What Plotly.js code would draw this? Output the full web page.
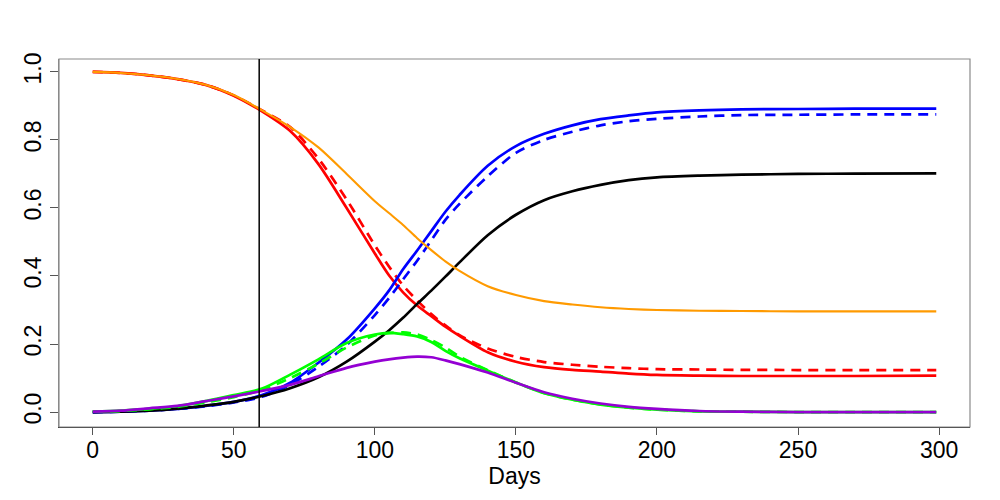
<!DOCTYPE html>
<html>
<head>
<meta charset="utf-8">
<script src="https://cdn.plot.ly/plotly-3.0.1.min.js"></script>
<style>
  body { margin: 0; background: #fff; }
  #graf { width: 1000px; height: 500px; }
</style>
</head>
<body>
<div id="graf"></div>
<script>
// dagar (x-hnit)
const days = [0, 10, 20, 30, 40, 50, 60, 70, 80, 90, 100, 105, 110, 115, 120, 125, 130,
              140, 150, 160, 170, 180, 190, 200, 215, 230, 250, 270, 299];

// lesið af myndinni
const orange    = [1.000, 0.997, 0.990, 0.979, 0.962, 0.932, 0.887, 0.838, 0.778, 0.700, 0.620, 0.585, 0.550, 0.511, 0.476, 0.443, 0.415,
                   0.370, 0.344, 0.326, 0.316, 0.308, 0.303, 0.300, 0.298, 0.297, 0.296, 0.296, 0.296];
const redSolid  = [1.000, 0.997, 0.990, 0.979, 0.962, 0.930, 0.884, 0.826, 0.729, 0.600, 0.466, 0.402, 0.352, 0.313, 0.282, 0.251, 0.224,
                   0.176, 0.148, 0.132, 0.124, 0.119, 0.113, 0.109, 0.107, 0.106, 0.106, 0.106, 0.107];
const redDash   = [1.000, 0.997, 0.990, 0.979, 0.962, 0.931, 0.887, 0.838, 0.745, 0.625, 0.490, 0.428, 0.372, 0.328, 0.288, 0.255, 0.226,
                   0.187, 0.162, 0.147, 0.139, 0.133, 0.129, 0.126, 0.125, 0.124, 0.1235, 0.123, 0.123];
const blueSolid = [0.000, 0.001, 0.004, 0.009, 0.018, 0.030, 0.050, 0.086, 0.145, 0.213, 0.305, 0.357, 0.420, 0.475, 0.532, 0.589, 0.638,
                   0.724, 0.782, 0.818, 0.843, 0.861, 0.872, 0.881, 0.887, 0.890, 0.891, 0.892, 0.892];
const blueDash  = [0.000, 0.001, 0.004, 0.009, 0.017, 0.028, 0.045, 0.080, 0.133, 0.197, 0.285, 0.335, 0.390, 0.445, 0.505, 0.565, 0.612,
                   0.693, 0.762, 0.800, 0.824, 0.843, 0.855, 0.862, 0.869, 0.873, 0.874, 0.875, 0.875];
const black     = [0.000, 0.001, 0.004, 0.010, 0.019, 0.030, 0.047, 0.070, 0.102, 0.148, 0.207, 0.240, 0.277, 0.318, 0.357, 0.398, 0.440,
                   0.520, 0.580, 0.623, 0.649, 0.668, 0.682, 0.690, 0.695, 0.698, 0.700, 0.701, 0.702];
const greenSolid= [0.001, 0.004, 0.009, 0.017, 0.032, 0.050, 0.069, 0.110, 0.155, 0.203, 0.228, 0.233, 0.229, 0.222, 0.206, 0.180, 0.158,
                   0.122, 0.087, 0.055, 0.036, 0.022, 0.013, 0.007, 0.002, 0.001, 0.000, 0.000, 0.000];
const greenDash = [0.001, 0.003, 0.008, 0.015, 0.028, 0.044, 0.065, 0.100, 0.142, 0.190, 0.225, 0.232, 0.234, 0.228, 0.212, 0.190, 0.163,
                   0.123, 0.087, 0.056, 0.036, 0.022, 0.013, 0.007, 0.002, 0.001, 0.000, 0.000, 0.000];
const purple    = [0.001, 0.004, 0.011, 0.018, 0.032, 0.046, 0.062, 0.080, 0.105, 0.130, 0.148, 0.155, 0.160, 0.163, 0.161, 0.152, 0.141,
                   0.116, 0.086, 0.058, 0.039, 0.025, 0.015, 0.009, 0.003, 0.001, 0.000, 0.000, 0.000];

const xTicks = [0, 50, 100, 150, 200, 250, 300];
const yTicks = [0, 0.2, 0.4, 0.6, 0.8, 1.0];
const yTickText = ['0.0', '0.2', '0.4', '0.6', '0.8', '1.0'];
const cutDay = 59;

function line(y, color, width, dash) {
    return {
        x: days, y: y, type: 'scatter', mode: 'lines', hoverinfo: 'skip',
        line: {color: color, width: width, dash: dash || 'solid', shape: 'spline', smoothing: 0.8}
    };
}

// röðin skiptir máli: appelsínugula ofan á rauðu, fjólubláa ofan á grænu
const traces = [
    line(redDash, '#ff0000', 2.7, '10px,7px'),
    line(redSolid, '#ff0000', 2.7),
    line(blueDash, '#0000ff', 2.7, '10px,7px'),
    line(blueSolid, '#0000ff', 2.7),
    line(black, '#000000', 2.7),
    line(greenDash, '#00ff00', 2.7, '10px,7px'),
    line(greenSolid, '#00ff00', 2.7),
    line(purple, '#9400d3', 2.7),
    line(orange, '#ff9a00', 2.1),
];

const font = {family: 'Liberation Sans, Arial, sans-serif', size: 23, color: '#000'};

const layout = {
    width: 1000,
    height: 500,
    margin: {l: 59, r: 30, t: 59, b: 73},
    showlegend: false,
    paper_bgcolor: '#fff',
    plot_bgcolor: '#fff',
    font: font,
    xaxis: {
        range: [-11.96, 310.96],
        tickvals: xTicks,
        ticks: 'outside', ticklen: 7, tickwidth: 1, tickcolor: '#555',
        ticklabelstandoff: -5,
        showgrid: false, zeroline: false,
        showline: true, linecolor: '#222', linewidth: 1,
        tickfont: font,
        title: {text: 'Days', font: font, standoff: 6},
    },
    yaxis: {
        range: [-0.044, 1.038],
        tickvals: yTicks,
        ticktext: yTickText,
        tickangle: -90,
        ticks: 'outside', ticklen: 8, tickwidth: 1, tickcolor: '#555',
        showgrid: false, zeroline: false,
        showline: true, linecolor: '#888', linewidth: 1,
        tickfont: font,
    },
    shapes: [
        {type: 'rect', xref: 'paper', yref: 'paper', x0: 0, x1: 1, y0: 0, y1: 1,
         line: {color: '#8a8a8a', width: 1.2}},
        {type: 'line', xref: 'x', yref: 'paper', x0: cutDay, x1: cutDay, y0: 0, y1: 1,
         line: {color: '#000', width: 1.5}},
    ],
};

Plotly.newPlot('graf', traces, layout, {displayModeBar: false, staticPlot: true});
</script>
</body>
</html>
